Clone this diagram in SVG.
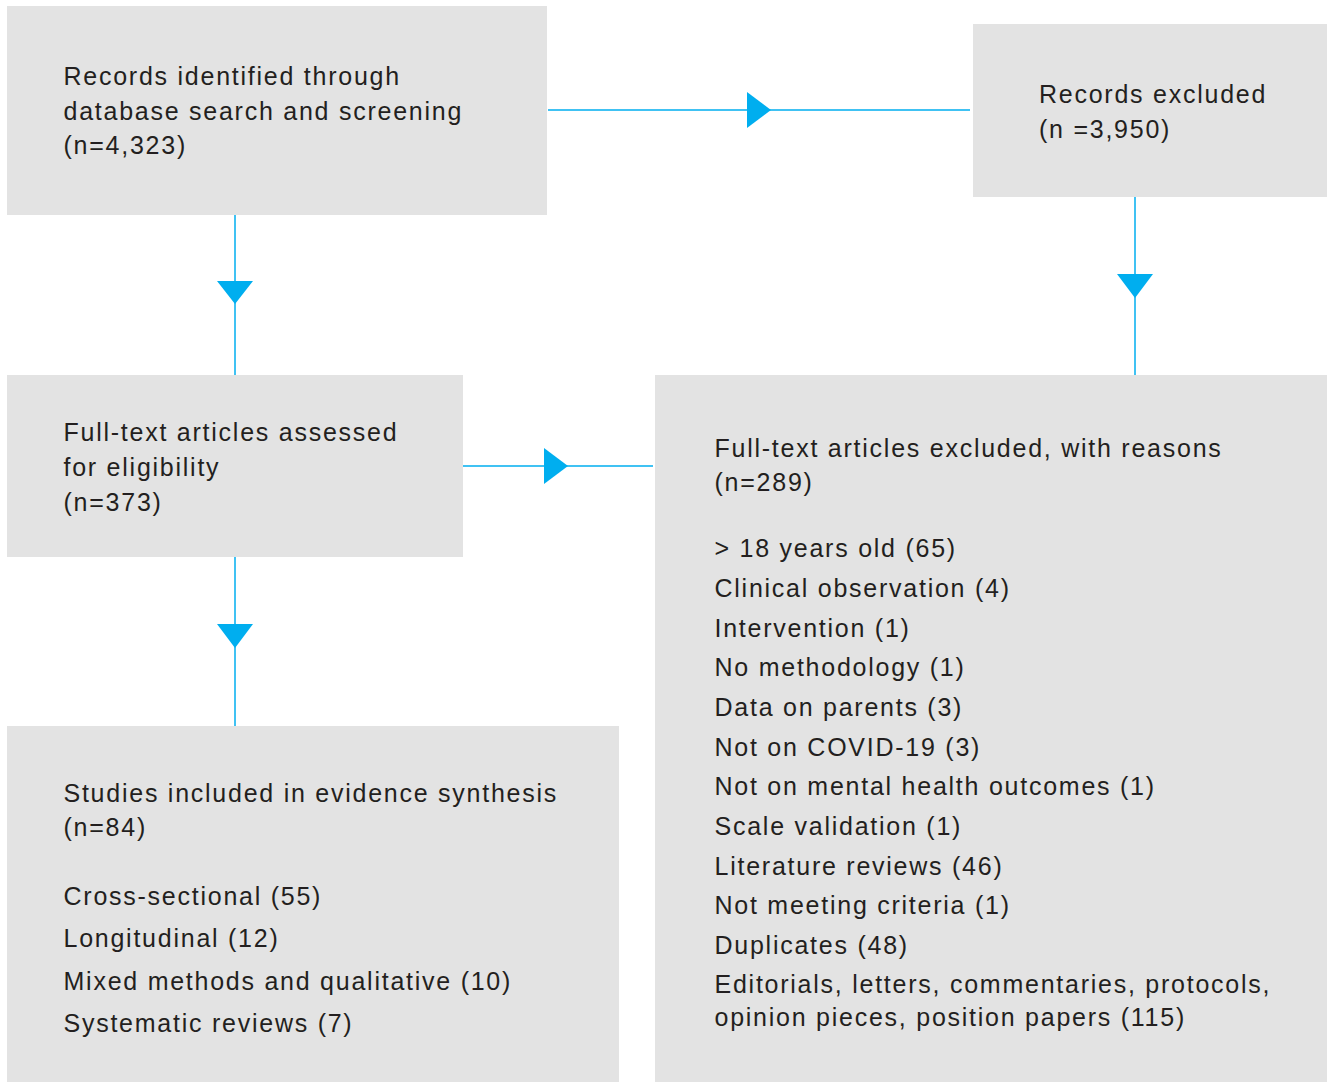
<svg xmlns="http://www.w3.org/2000/svg" width="1327" height="1082" viewBox="0 0 1327 1082">
<defs>
<style>
.box{fill:#e3e3e3;}
.t{font-family:"Liberation Sans",Arial,sans-serif;font-size:25px;letter-spacing:1.75px;fill:#231f20;}
.ln{stroke:#00aeef;stroke-width:1.5;fill:none;}
.hd{fill:#00aeef;}
</style>
</defs>
<rect width="1327" height="1082" fill="#ffffff"/>
<g id="connectors">
<line class="ln" x1="548" y1="110" x2="970" y2="110"/>
<polygon class="hd" points="747,92 771,110 747,128"/>
<line class="ln" x1="235" y1="215" x2="235" y2="375"/>
<polygon class="hd" points="217,281 253,281 235,304"/>
<line class="ln" x1="1135" y1="197" x2="1135" y2="375"/>
<polygon class="hd" points="1117,274 1153,274 1135,298"/>
<line class="ln" x1="463" y1="466" x2="653" y2="466"/>
<polygon class="hd" points="544,448 568,466 544,484"/>
<line class="ln" x1="235" y1="557" x2="235" y2="726"/>
<polygon class="hd" points="217,624 253,624 235,648"/>
</g>
<g id="records-identified">
<rect class="box" x="7" y="6" width="540" height="209"/>
<text class="t" x="63.5" y="85">Records identified through</text>
<text class="t" x="63.5" y="119.5">database search and screening</text>
<text class="t" x="63.5" y="154">(n=4,323)</text>
</g>
<g id="records-excluded">
<rect class="box" x="973" y="24" width="354" height="173"/>
<text class="t" x="1039" y="103">Records excluded</text>
<text class="t" x="1039" y="137.5">(n =3,950)</text>
</g>
<g id="full-text-assessed">
<rect class="box" x="7" y="375" width="456" height="182"/>
<text class="t" x="63.5" y="441">Full-text articles assessed</text>
<text class="t" x="63.5" y="476">for eligibility</text>
<text class="t" x="63.5" y="511">(n=373)</text>
</g>
<g id="full-text-excluded">
<rect class="box" x="655" y="375" width="672" height="707"/>
<text class="t" x="714.5" y="457">Full-text articles excluded, with reasons</text>
<text class="t" x="714.5" y="491">(n=289)</text>
<text class="t" x="714.5" y="557">&gt; 18 years old (65)</text>
<text class="t" x="714.5" y="597">Clinical observation (4)</text>
<text class="t" x="714.5" y="636.5">Intervention (1)</text>
<text class="t" x="714.5" y="676">No methodology (1)</text>
<text class="t" x="714.5" y="716">Data on parents (3)</text>
<text class="t" x="714.5" y="755.5">Not on COVID-19 (3)</text>
<text class="t" x="714.5" y="795">Not on mental health outcomes (1)</text>
<text class="t" x="714.5" y="835">Scale validation (1)</text>
<text class="t" x="714.5" y="874.5">Literature reviews (46)</text>
<text class="t" x="714.5" y="914">Not meeting criteria (1)</text>
<text class="t" x="714.5" y="953.5">Duplicates (48)</text>
<text class="t" x="714.5" y="993">Editorials, letters, commentaries, protocols,</text>
<text class="t" x="714.5" y="1025.5">opinion pieces, position papers (115)</text>
</g>
<g id="studies-included">
<rect class="box" x="7" y="726" width="612" height="356"/>
<text class="t" x="63.5" y="801.5">Studies included in evidence synthesis</text>
<text class="t" x="63.5" y="835.5">(n=84)</text>
<text class="t" x="63.5" y="905">Cross-sectional (55)</text>
<text class="t" x="63.5" y="947">Longitudinal (12)</text>
<text class="t" x="63.5" y="989.5">Mixed methods and qualitative (10)</text>
<text class="t" x="63.5" y="1032">Systematic reviews (7)</text>
</g>
</svg>
